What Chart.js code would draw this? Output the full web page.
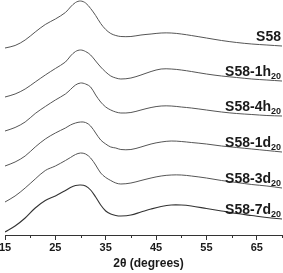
<!DOCTYPE html>
<html>
<head>
<meta charset="utf-8">
<script src="https://cdn.jsdelivr.net/npm/chart.js@4.4.1/dist/chart.umd.min.js"></script>
<style>
  html, body { margin: 0; padding: 0; background: #fff; }
</style>
</head>
<body>
<canvas id="xrd" width="283" height="273"></canvas>
<script>
// 2theta sampling points (degrees)
const twoTheta = [15, 17, 19, 21, 23, 25, 27, 28, 29, 30, 31, 32, 33, 34, 35, 36, 37, 38,
                  40, 42, 44, 46, 48, 50, 52, 55, 58, 61, 64, 67, 70];

// stacked intensities (a.u., vertical offset included)
const s58    = [187, 189.5, 195, 203, 210.5, 216, 222.5, 228, 232.5, 234, 232, 226.5, 219.5, 211.5, 205.5, 201.5, 199.5, 198.5,
                198.5, 200, 201, 202, 202, 201, 199.5, 197, 194.5, 192.5, 191, 190, 189];
const s58_1h = [138, 141, 146, 153, 160, 166.5, 173, 179, 183.5, 185, 183.5, 180, 174, 168, 163, 159, 157, 156,
                157, 160, 163.5, 166, 166, 165, 163.5, 161, 159, 157.5, 156, 155, 154];
const s58_4h = [104, 107.5, 113, 121.5, 128.5, 135, 141, 145.5, 150, 152, 151, 148, 140, 133, 128, 125, 123, 122,
                122.5, 125, 127.5, 129, 129, 128, 127, 125, 123, 121.5, 120.5, 119.5, 119];
const s58_1d = [69, 73, 79, 88, 96, 102, 107, 110, 112, 113, 112.5, 109, 102, 95, 91, 88, 87, 85.5,
                85.5, 88, 91, 93, 94, 93.5, 92.5, 91, 89, 87.5, 86, 84.5, 83];
const s58_3d = [33, 39, 47, 56, 64.5, 69, 74.5, 77.5, 80.5, 82, 81, 77, 70, 62, 57.5, 54.5, 52, 51,
                52, 54.5, 57, 59, 60, 60, 59, 57, 54.5, 52.5, 50.5, 49, 47];
const s58_7d = [3, 9, 17, 27, 34.5, 39, 44.5, 47.5, 49.5, 50, 49, 45, 38, 30, 24, 21, 19.5, 19,
                20, 23, 26, 28.5, 30, 30, 29, 26.5, 24, 21.5, 19.5, 17.5, 16];

const sampleNames = ['S58', 'S58-1h', 'S58-4h', 'S58-1d', 'S58-3d', 'S58-7d'];
const sampleSubs  = ['', '20', '20', '20', '20', '20'];
const majorTicks  = [15, 25, 35, 45, 55, 65];
const minorTicks  = [20, 30, 40, 50, 60, 70];
const axisTitle   = '2θ (degrees)';

const allSeries = [s58, s58_1h, s58_4h, s58_1d, s58_3d, s58_7d];
const FONT = '"Liberation Sans", Arial, sans-serif';

const datasets = allSeries.map((vals, i) => ({
  label: sampleNames[i] + sampleSubs[i],
  data: vals.map((v, k) => ({ x: twoTheta[k], y: v })),
  borderColor: i === 5 ? '#333' : '#555',
  borderWidth: i === 5 ? 1.1 : 1,
  pointRadius: 0,
  tension: 0.35,
  fill: false
}));

// sample names with subscripts, minor ticks and axis title
const decorations = {
  id: 'decorations',
  afterDraw(chart) {
    const ctx = chart.ctx;
    const xs = chart.scales.x;
    const area = chart.chartArea;
    ctx.save();

    // minor ticks
    ctx.strokeStyle = '#333';
    ctx.lineWidth = 1;
    minorTicks.forEach(t => {
      const px = Math.round(xs.getPixelForValue(t)) + 0.5;
      ctx.beginPath();
      ctx.moveTo(px, area.bottom);
      ctx.lineTo(px, area.bottom + 3);
      ctx.stroke();
    });

    // labels at the right end of every trace
    ctx.fillStyle = '#1a1a1a';
    ctx.textBaseline = 'alphabetic';
    chart.data.datasets.forEach((ds, i) => {
      const meta = chart.getDatasetMeta(i);
      const last = meta.data[meta.data.length - 1];
      const base = last.y - 5;
      const right = area.right - 1;
      ctx.font = 'bold 9px ' + FONT;
      const subW = sampleSubs[i] ? ctx.measureText(sampleSubs[i]).width : 0;
      ctx.textAlign = 'right';
      if (sampleSubs[i]) ctx.fillText(sampleSubs[i], right, base + 3);
      ctx.font = 'bold 14px ' + FONT;
      ctx.fillText(sampleNames[i], right - subW, base);
    });

    // axis title
    ctx.font = 'bold 12px ' + FONT;
    ctx.textAlign = 'center';
    ctx.fillText(axisTitle, (area.left + area.right) / 2 + 5, 267);
    ctx.restore();
  }
};

new Chart(document.getElementById('xrd'), {
  type: 'line',
  data: { datasets },
  plugins: [decorations],
  options: {
    responsive: false,
    animation: false,
    devicePixelRatio: 1,
    layout: { padding: { left: 5, right: 1, top: 0, bottom: 0 } },
    plugins: { legend: { display: false }, tooltip: { enabled: false } },
    scales: {
      x: {
        type: 'linear',
        min: 15,
        max: 70,
        afterBuildTicks: s => { s.ticks = majorTicks.map(v => ({ value: v })); },
        afterFit: s => { s.paddingLeft = 0; s.paddingRight = 0; s.height = 38; },
        grid: { drawOnChartArea: false, drawTicks: true, tickLength: 5, color: '#333', lineWidth: 1 },
        border: { display: true, color: '#333', width: 1 },
        ticks: {
          autoSkip: false,
          maxRotation: 0,
          padding: 1,
          color: '#1a1a1a',
          font: { family: FONT, size: 11, weight: 'bold' },
          callback: v => String(v)
        },
        title: { display: false }
      },
      y: { display: false, min: 0, max: 235 }
    }
  }
});
</script>
</body>
</html>
